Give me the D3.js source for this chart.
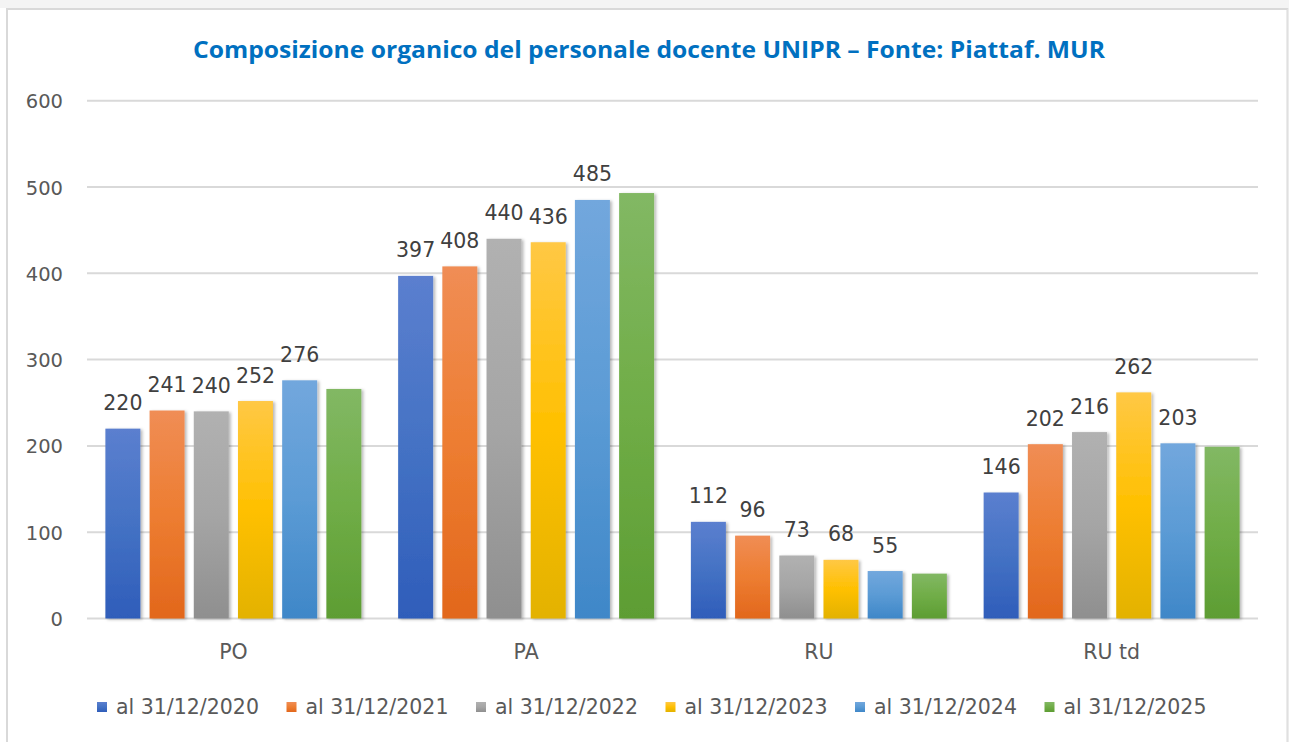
<!DOCTYPE html>
<html>
<head>
<meta charset="utf-8">
<script src="https://cdn.jsdelivr.net/npm/d3@7"></script>
<style>
  html, body { margin: 0; padding: 0; background: #ffffff; }
  svg { display: block; }
</style>
</head>
<body>
<svg id="chart" width="1289" height="742"></svg>
<script>
const title = "Composizione organico del personale docente UNIPR – Fonte: Piattaf. MUR";
const categories = ["PO", "PA", "RU", "RU td"];
const seriesNames = ["al 31/12/2020", "al 31/12/2021", "al 31/12/2022", "al 31/12/2023", "al 31/12/2024", "al 31/12/2025"];
const values2020 = [220, 397, 112, 146];
const values2021 = [241, 408, 96, 202];
const values2022 = [240, 440, 73, 216];
const values2023 = [252, 436, 68, 262];
const values2024 = [276, 485, 55, 203];
const values2025 = [266, 493, 52, 199];
const showLabels = [true, true, true, true, true, false];
const yTicks = [0, 100, 200, 300, 400, 500, 600];
const colorsTop = ["#5B7FCF", "#F08D55", "#B1B1B1", "#FFC845", "#72A7DD", "#82B864"];
const colorsMid = ["#4472C4", "#ED7D31", "#A5A5A5", "#FFC000", "#5B9BD5", "#70AD47"];
const colorsBot = ["#2F5DBA", "#E2671C", "#8F8F8F", "#E3B200", "#3F87C8", "#5D9D33"];

const seriesValues = [values2020, values2021, values2022, values2023, values2024, values2025];

const svg = d3.select("#chart");
const defs = svg.append("defs");

seriesNames.forEach((s, i) => {
  const g = defs.append("linearGradient").attr("id", "grad" + i)
    .attr("x1", 0).attr("y1", 0).attr("x2", 0).attr("y2", 1);
  g.append("stop").attr("offset", "0%").attr("stop-color", colorsTop[i]);
  g.append("stop").attr("offset", "50%").attr("stop-color", colorsMid[i]);
  g.append("stop").attr("offset", "100%").attr("stop-color", colorsBot[i]);
});
const f = defs.append("filter").attr("id", "shadow")
  .attr("x", "-20%").attr("y", "-10%").attr("width", "150%").attr("height", "130%");
f.append("feDropShadow").attr("dx", 2).attr("dy", 1).attr("stdDeviation", 1.6)
  .attr("flood-color", "#000").attr("flood-opacity", 0.28);

// frame
svg.append("rect").attr("x", 0).attr("y", 0).attr("width", 1289).attr("height", 8).attr("fill", "#f4f4f4");
svg.append("rect").attr("x", 7).attr("y", 9).attr("width", 1280.5).attr("height", 760)
  .attr("fill", "#ffffff").attr("stroke", "#d9d9d9").attr("stroke-width", 2);
svg.append("line").attr("x1", 1287.5).attr("x2", 1287.5).attr("y1", 9).attr("y2", 742)
  .attr("stroke", "#e0e0e0").attr("stroke-width", 1);

// title
svg.append("text")
  .attr("x", 649).attr("y", 58)
  .attr("text-anchor", "middle")
  .attr("font-family", "'Open Sans', sans-serif")
  .attr("font-weight", "bold")
  .attr("font-size", 23)
  .attr("fill", "#0070C0")
  .attr("textLength", 912)
  .attr("lengthAdjust", "spacingAndGlyphs")
  .text(title);

const plotLeft = 87, plotRight = 1258, plotTop = 100.7, plotBottom = 618.5;
const y = d3.scaleLinear().domain([0, 600]).range([plotBottom, plotTop]);
const x0 = d3.scaleBand().domain(categories).range([plotLeft, plotRight]).paddingInner(0).paddingOuter(0);
const x1 = d3.scaleBand().domain(d3.range(seriesNames.length)).range([0, x0.bandwidth()])
  .paddingInner(0.208).paddingOuter(0.416);

// gridlines
svg.append("g").selectAll("line").data(yTicks).join("line")
  .attr("x1", plotLeft).attr("x2", plotRight)
  .attr("y1", d => y(d)).attr("y2", d => y(d))
  .attr("stroke", "#d9d9d9").attr("stroke-width", 2);

// y axis labels
const yAxis = d3.axisLeft(y).tickValues(yTicks).tickSize(0).tickPadding(0);
const yg = svg.append("g").attr("transform", `translate(63,0)`).call(yAxis);
yg.select(".domain").remove();
yg.selectAll("text")
  .attr("font-family", "'DejaVu Sans', sans-serif")
  .attr("font-size", 19.5)
  .attr("fill", "#595959")
  .attr("dy", "0.36em");

// bars
const groups = svg.append("g").selectAll("g").data(categories).join("g")
  .attr("transform", d => `translate(${x0(d)},0)`);

groups.each(function(cat, ci) {
  const g = d3.select(this);
  seriesNames.forEach((s, si) => {
    const v = seriesValues[si][ci];
    g.append("rect")
      .attr("x", x1(si)).attr("width", x1.bandwidth())
      .attr("y", y(v)).attr("height", y(0) - y(v))
      .attr("fill", `url(#grad${si})`)
      .attr("filter", "url(#shadow)");
  });
  seriesNames.forEach((s, si) => {
    if (!showLabels[si]) return;
    const v = seriesValues[si][ci];
    g.append("text")
      .attr("x", x1(si) + x1.bandwidth() / 2)
      .attr("y", y(v) - 18.5)
      .attr("text-anchor", "middle")
      .attr("font-family", "'DejaVu Sans', sans-serif")
      .attr("font-size", 20.5)
      .attr("fill", "#404040")
      .text(v);
  });
});

// x axis labels
const xAxis = d3.axisBottom(x0).tickSize(0).tickPadding(0);
const xg = svg.append("g").attr("transform", `translate(0,${plotBottom})`).call(xAxis);
xg.select(".domain").remove();
xg.selectAll("text")
  .attr("font-family", "'DejaVu Sans', sans-serif")
  .attr("font-size", 20.5)
  .attr("fill", "#595959")
  .attr("dy", null)
  .attr("y", 40.5);

// legend
const legendX = d3.scalePoint().domain(seriesNames).range([97, 1044.5]);
const lg = svg.append("g").selectAll("g").data(seriesNames).join("g")
  .attr("transform", d => `translate(${legendX(d)},707)`);
lg.append("rect").attr("x", 0).attr("y", -5).attr("width", 10).attr("height", 10)
  .attr("fill", (d, i) => `url(#grad${i})`);
lg.append("text").attr("x", 19).attr("y", 0).attr("dy", "0.36em")
  .attr("font-family", "'DejaVu Sans', sans-serif")
  .attr("font-size", 20.5)
  .attr("fill", "#595959")
  .text(d => d);
</script>
</body>
</html>
